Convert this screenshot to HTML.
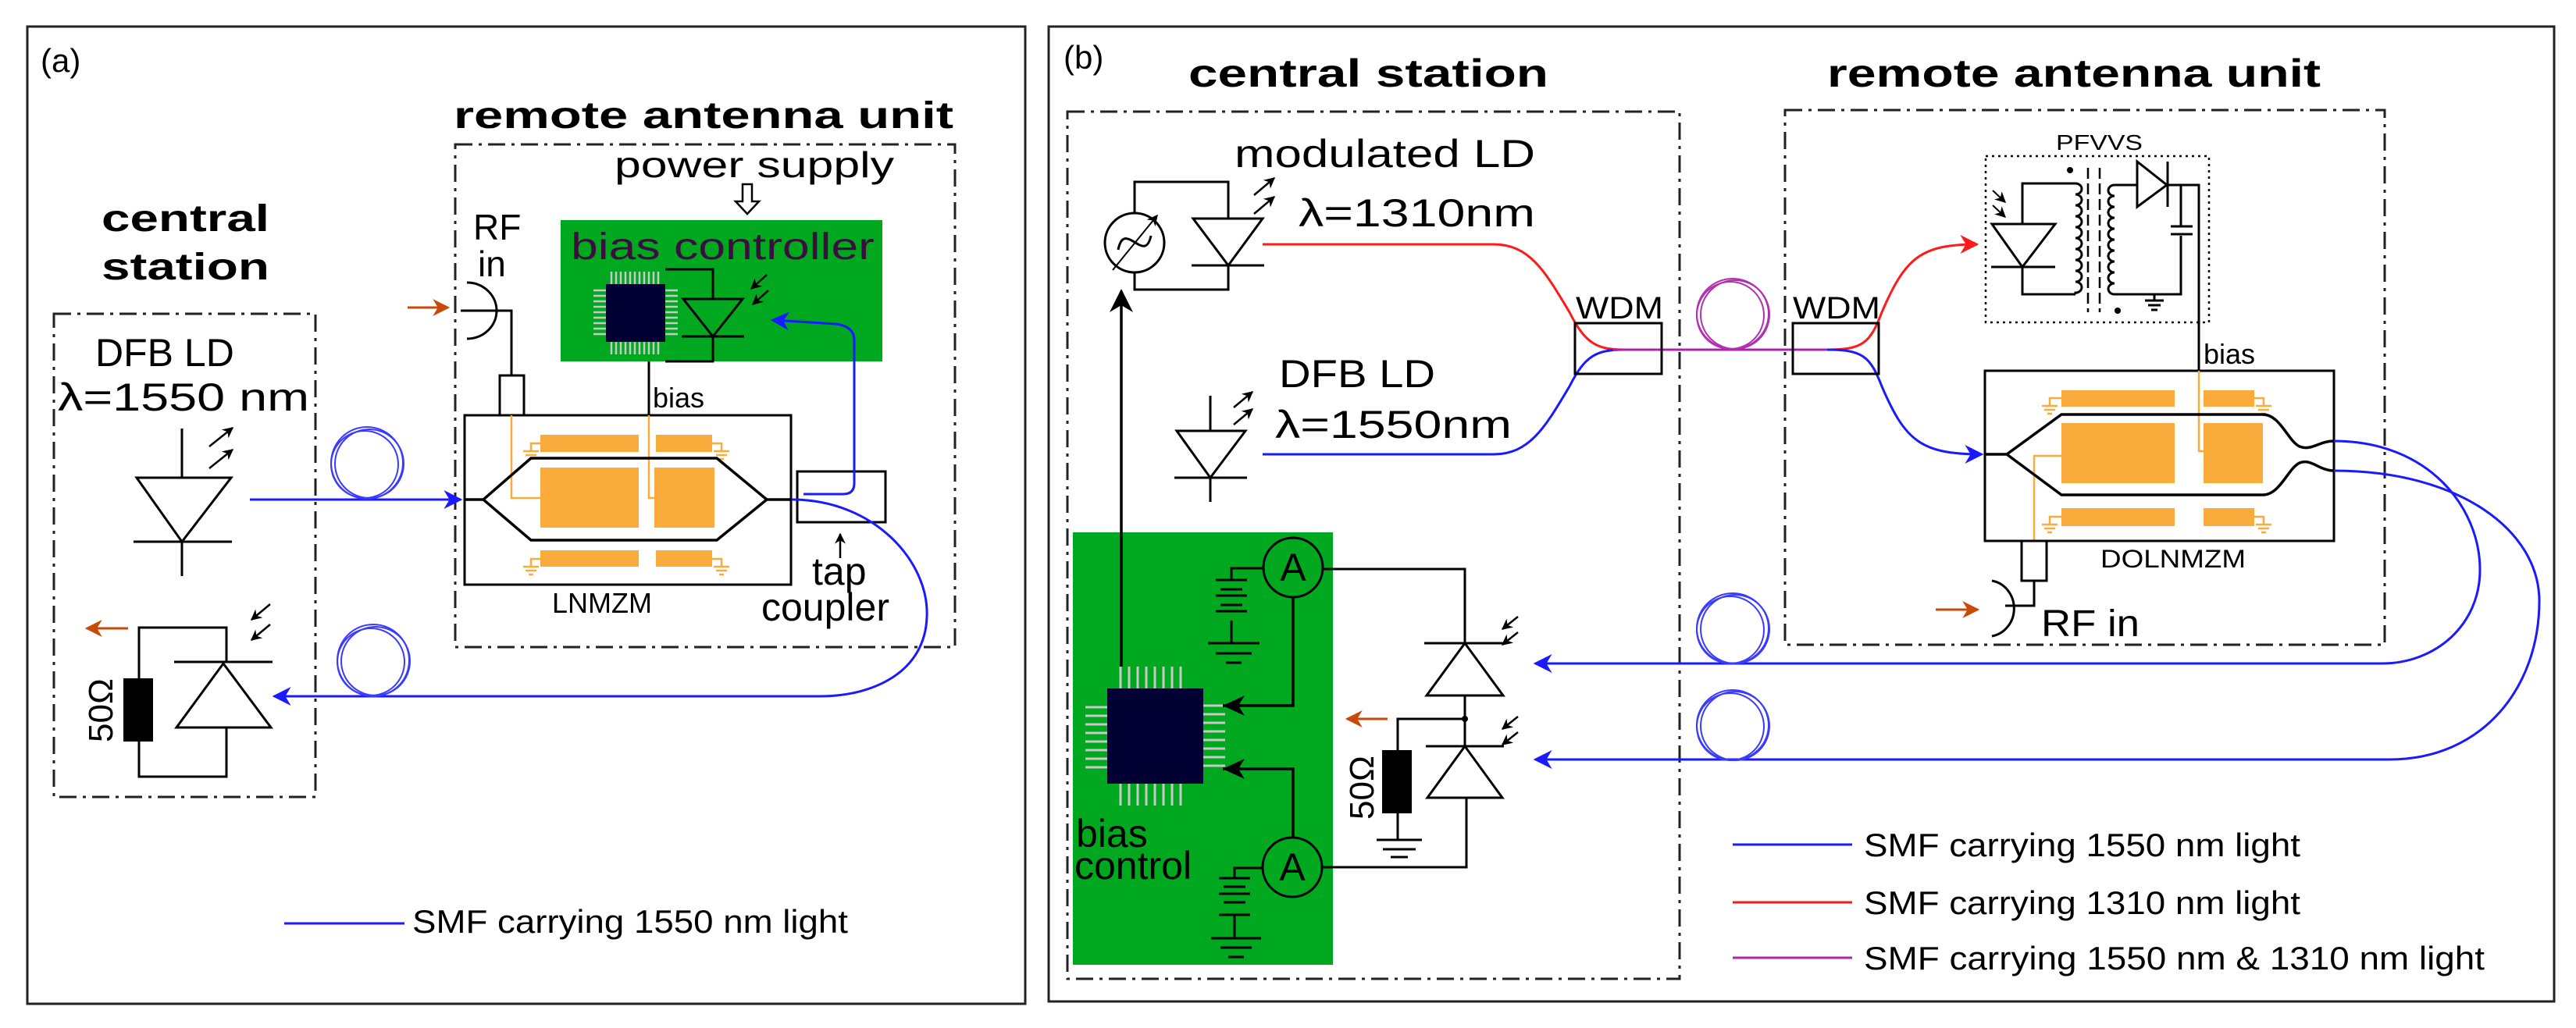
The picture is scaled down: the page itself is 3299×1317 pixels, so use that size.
<!DOCTYPE html>
<html><head><meta charset="utf-8"><style>
html,body{margin:0;padding:0;background:#fff;}
svg{display:block;}
text{font-family:"Liberation Sans",sans-serif;}
</style></head><body>
<svg width="3299" height="1317" viewBox="0 0 3299 1317" xmlns="http://www.w3.org/2000/svg">
<defs>
<marker id="abl" viewBox="0 0 10 10" markerWidth="24" markerHeight="24" refX="9" refY="5" orient="auto" markerUnits="userSpaceOnUse"><path d="M0,0 L10,5 L0,10 L3,5z" fill="#1a1aff"/></marker>
<marker id="ar" viewBox="0 0 10 10" markerWidth="24" markerHeight="24" refX="9" refY="5" orient="auto" markerUnits="userSpaceOnUse"><path d="M0,0 L10,5 L0,10 L3,5z" fill="#ff1a1a"/></marker>
<marker id="ak" viewBox="0 0 10 10" markerWidth="30" markerHeight="30" refX="9" refY="5" orient="auto" markerUnits="userSpaceOnUse"><path d="M0,0 L10,5 L0,10 L3,5z" fill="#000"/></marker>
<marker id="ao" viewBox="0 0 10 10" markerWidth="22" markerHeight="22" refX="9" refY="5" orient="auto" markerUnits="userSpaceOnUse"><path d="M0,0 L10,5 L0,10 L3,5z" fill="#c84a0a"/></marker>
<marker id="as" viewBox="0 0 10 10" markerWidth="14" markerHeight="14" refX="9" refY="5" orient="auto" markerUnits="userSpaceOnUse"><path d="M0,0 L10,5 L0,10 L3,5z" fill="#000"/></marker>
</defs>

<!-- ============ PANEL A ============ -->
<rect x="35" y="34" width="1278" height="1252" fill="none" stroke="#222" stroke-width="3"/>
<text x="52" y="92" font-size="42">(a)</text>
<text x="581" y="164" font-size="48" font-weight="bold" textLength="640" lengthAdjust="spacingAndGlyphs">remote antenna unit</text>
<rect x="583" y="185" width="640" height="644" fill="none" stroke="#222" stroke-width="3" stroke-dasharray="22 8 4 8"/>
<text x="787" y="227" font-size="46" textLength="358" lengthAdjust="spacingAndGlyphs">power supply</text>
<path d="M951,236 L963,236 L963,258 L972,258 L957,274 L942,258 L951,258 Z" fill="#fff" stroke="#000" stroke-width="2.5"/>
<rect x="718" y="282" width="412" height="181" fill="#00a81f"/>
<text x="731" y="332" font-size="48" fill="#3a0f3f" textLength="389" lengthAdjust="spacingAndGlyphs">bias controller</text>
<g stroke="#c8c8c8" stroke-width="2.5">
<path d="M783,348v16M789,348v16M795,348v16M801,348v16M807,348v16M813,348v16M819,348v16M825,348v16M831,348v16M837,348v16M843,348v16"/>
<path d="M783,438v16M789,438v16M795,438v16M801,438v16M807,438v16M813,438v16M819,438v16M825,438v16M831,438v16M837,438v16M843,438v16"/>
<path d="M760,372h16M760,379h16M760,386h16M760,393h16M760,400h16M760,407h16M760,414h16M760,421h16M760,428h16"/>
<path d="M852,372h16M852,379h16M852,386h16M852,393h16M852,400h16M852,407h16M852,414h16M852,421h16M852,428h16"/>
</g>
<rect x="776" y="364" width="76" height="74" fill="#000033"/>
<g fill="none" stroke="#000" stroke-width="3">
<path d="M852,345 H913 V383"/><path d="M875,383 H951 L913,431 Z"/><path d="M873,431 H953"/><path d="M913,431 V463 H852"/>
<path d="M831,463 V532"/>
</g>
<g stroke="#000" stroke-width="2.5">
<line x1="982" y1="352" x2="962" y2="370" marker-end="url(#as)"/>
<line x1="984" y1="372" x2="964" y2="390" marker-end="url(#as)"/>
</g>
<text x="606" y="307" font-size="46">RF</text>
<text x="612" y="354" font-size="46">in</text>
<path d="M598,362 A38,36 0 0 1 598,434" fill="none" stroke="#000" stroke-width="3"/>
<path d="M590,398 H655 V481" fill="none" stroke="#000" stroke-width="3"/>
<line x1="522" y1="394" x2="574" y2="394" stroke="#c84a0a" stroke-width="3" marker-end="url(#ao)"/>
<rect x="640" y="481" width="31" height="51" fill="#fff" stroke="#000" stroke-width="3"/>
<text x="836" y="522" font-size="36">bias</text>
<rect x="595" y="532" width="418" height="217" fill="none" stroke="#000" stroke-width="3"/>
<g fill="#f9ac3c">
<rect x="692" y="557" width="126" height="22"/><rect x="840" y="557" width="72" height="22"/>
<rect x="692" y="599" width="126" height="77"/><rect x="838" y="599" width="77" height="77"/>
<rect x="692" y="705" width="126" height="21"/><rect x="840" y="705" width="72" height="21"/>
</g>
<g stroke="#f9ac3c" stroke-width="2.5" fill="none">
<path d="M655,532 V638 H692"/><path d="M831,532 V638 H838"/>
<path d="M692,568 H680 V578 M670,578 H690 M673,583 H687 M677,588 H683"/>
<path d="M912,568 H924 V578 M914,578 H934 M917,583 H931 M921,588 H927"/>
<path d="M692,716 H680 V726 M670,726 H690 M673,731 H687 M677,736 H683"/>
<path d="M912,716 H924 V726 M914,726 H934 M917,731 H931 M921,736 H927"/>
</g>
<path d="M595,640 H619 L680,587 H918 L982,640 L918,692 H680 L619,640 M982,640 H1014" fill="none" stroke="#000" stroke-width="3.5"/>
<text x="707" y="785" font-size="36">LNMZM</text>
<rect x="1021" y="604" width="113" height="65" fill="none" stroke="#000" stroke-width="3"/>
<line x1="1076" y1="715" x2="1076" y2="684" stroke="#000" stroke-width="2.5" marker-end="url(#as)"/>
<text x="1040" y="749" font-size="50">tap</text>
<text x="975" y="795" font-size="50">coupler</text>
<text x="130" y="296" font-size="48" font-weight="bold" textLength="215" lengthAdjust="spacingAndGlyphs">central</text>
<text x="130" y="358" font-size="48" font-weight="bold" textLength="215" lengthAdjust="spacingAndGlyphs">station</text>
<rect x="69" y="402" width="335" height="619" fill="none" stroke="#222" stroke-width="3" stroke-dasharray="22 8 4 8"/>
<text x="122" y="469" font-size="50">DFB LD</text>
<text x="74" y="526" font-size="50" textLength="322" lengthAdjust="spacingAndGlyphs">λ=1550 nm</text>
<g fill="none" stroke="#000" stroke-width="3">
<path d="M233,549 V612 M175,612 H296 L233,694 Z M171,694 H297 M233,694 V738"/>
</g>
<g stroke="#000" stroke-width="2.5">
<line x1="268" y1="572" x2="298" y2="548" marker-end="url(#as)"/>
<line x1="268" y1="600" x2="298" y2="576" marker-end="url(#as)"/>
</g>
<g fill="none" stroke="#000" stroke-width="3">
<path d="M178,869 V804 H290 V848 M223,848 H349 M226,932 H347 L286,850 Z M290,932 V995 H178 V950"/>
</g>
<rect x="158" y="869" width="38" height="81" fill="#000"/>
<g stroke="#000" stroke-width="2.5">
<line x1="346" y1="774" x2="322" y2="794" marker-end="url(#as)"/>
<line x1="346" y1="800" x2="322" y2="820" marker-end="url(#as)"/>
</g>
<line x1="164" y1="805" x2="111" y2="805" stroke="#c84a0a" stroke-width="3" marker-end="url(#ao)"/>
<text transform="translate(144,951) rotate(-90)" font-size="44">50Ω</text>
<line x1="320" y1="640" x2="590" y2="640" stroke="#1a1aff" stroke-width="3" marker-end="url(#abl)"/>
<g fill="none" stroke="#3a3aff" stroke-width="2"><circle cx="470" cy="593" r="46"/><circle cx="473" cy="594" r="44"/><circle cx="467" cy="595" r="43"/></g>
<path d="M1029,633 H1080 Q1094,633 1094,619 V436 Q1094,418 1070,415 L989,410" fill="none" stroke="#1a1aff" stroke-width="3" marker-end="url(#abl)"/>
<path d="M1014,640 C1120,640 1190,720 1187,790 C1185,860 1120,892 1050,892 H351" fill="none" stroke="#1a1aff" stroke-width="3" marker-end="url(#abl)"/>
<g fill="none" stroke="#3a3aff" stroke-width="2"><circle cx="478" cy="846" r="46"/><circle cx="481" cy="847" r="44"/><circle cx="475" cy="848" r="43"/></g>
<line x1="364" y1="1183" x2="518" y2="1183" stroke="#1a1aff" stroke-width="3"/>
<text x="528" y="1195" font-size="42" textLength="558" lengthAdjust="spacingAndGlyphs">SMF carrying 1550 nm light</text>

<!-- ============ PANEL B ============ -->
<rect x="1343" y="34" width="1928" height="1249" fill="none" stroke="#222" stroke-width="3"/>
<text x="1362" y="88" font-size="42">(b)</text>
<text x="1522" y="111" font-size="50" font-weight="bold" textLength="461" lengthAdjust="spacingAndGlyphs">central  station</text>
<text x="2340" y="111" font-size="50" font-weight="bold" textLength="632" lengthAdjust="spacingAndGlyphs">remote antenna unit</text>
<rect x="1367" y="143" width="784" height="1111" fill="none" stroke="#222" stroke-width="3" stroke-dasharray="22 8 4 8"/>
<rect x="2286" y="141" width="768" height="685" fill="none" stroke="#222" stroke-width="3" stroke-dasharray="22 8 4 8"/>
<text x="1581" y="214" font-size="50" textLength="385" lengthAdjust="spacingAndGlyphs">modulated LD</text>
<text x="1663" y="290" font-size="50" textLength="303" lengthAdjust="spacingAndGlyphs">λ=1310nm</text>
<g fill="none" stroke="#000" stroke-width="3">
<path d="M1453,273 V233 H1573 V280 M1528,280 H1617 L1573,340 Z M1526,340 H1619 M1573,340 V371 H1453 V349"/>
<circle cx="1453" cy="311" r="38" fill="#fff"/>
<path d="M1432,320 C1440,280 1466,340 1474,302"/>
</g>
<line x1="1425" y1="346" x2="1482" y2="276" stroke="#000" stroke-width="2" marker-end="url(#as)"/>
<g stroke="#000" stroke-width="2.5">
<line x1="1606" y1="250" x2="1632" y2="228" marker-end="url(#as)"/>
<line x1="1606" y1="274" x2="1632" y2="252" marker-end="url(#as)"/>
</g>
<text x="1638" y="496" font-size="50" textLength="200" lengthAdjust="spacingAndGlyphs">DFB LD</text>
<text x="1633" y="561" font-size="50" textLength="303" lengthAdjust="spacingAndGlyphs">λ=1550nm</text>
<g fill="none" stroke="#000" stroke-width="3">
<path d="M1550,507 V552 M1507,552 H1595 L1550,612 Z M1504,612 H1597 M1550,612 V643"/>
</g>
<g stroke="#000" stroke-width="2.5">
<line x1="1580" y1="522" x2="1604" y2="502" marker-end="url(#as)"/>
<line x1="1580" y1="544" x2="1604" y2="524" marker-end="url(#as)"/>
</g>
<path d="M1617,313 H1913 C1960,313 1980,350 2010,400 C2030,440 2045,448 2080,448" fill="none" stroke="#ff1a1a" stroke-width="3"/>
<path d="M1617,582 H1913 C1960,582 1980,545 2010,495 C2030,455 2045,448 2080,448" fill="none" stroke="#1a1aff" stroke-width="3"/>
<line x1="2065" y1="448" x2="2350" y2="448" stroke="#b020b0" stroke-width="3"/>
<g fill="none" stroke="#b030b0" stroke-width="2"><ellipse cx="2219" cy="402" rx="46" ry="45"/><ellipse cx="2222" cy="403" rx="44" ry="44"/><ellipse cx="2216" cy="404" rx="43" ry="43"/></g>
<path d="M2340,448 C2385,448 2395,440 2410,400 C2440,330 2460,313 2532,313" fill="none" stroke="#ff1a1a" stroke-width="3" marker-end="url(#ar)"/>
<path d="M2340,448 C2385,448 2395,456 2410,495 C2440,565 2460,582 2538,582" fill="none" stroke="#1a1aff" stroke-width="3" marker-end="url(#abl)"/>
<rect x="2017" y="414" width="111" height="65" fill="none" stroke="#000" stroke-width="3"/>
<rect x="2296" y="414" width="110" height="65" fill="none" stroke="#000" stroke-width="3"/>
<text x="2018" y="408" font-size="40" textLength="112" lengthAdjust="spacingAndGlyphs">WDM</text>
<text x="2296" y="408" font-size="40" textLength="112" lengthAdjust="spacingAndGlyphs">WDM</text>
<text x="2633" y="192" font-size="28" textLength="111" lengthAdjust="spacingAndGlyphs">PFVVS</text>
<rect x="2543" y="200" width="286" height="213" fill="none" stroke="#000" stroke-width="2.5" stroke-dasharray="3 5"/>
<g fill="none" stroke="#000" stroke-width="3">
<path d="M2590,287 V235 H2658 M2551,287 H2632 L2590,342 Z M2550,342 H2632 M2590,342 V377 H2658"/>
<path d="M2658,235 a8,7 0 0 1 0,14 a8,7 0 0 1 0,14 a8,7 0 0 1 0,14 a8,7 0 0 1 0,14 a8,7 0 0 1 0,14 a8,7 0 0 1 0,14 a8,7 0 0 1 0,14 a8,7 0 0 1 0,14 a8,7 0 0 1 0,14 a8,7 0 0 1 0,14 V377"/>
<path d="M2708,237 a8,7 0 0 0 0,14 a8,7 0 0 0 0,14 a8,7 0 0 0 0,14 a8,7 0 0 0 0,14 a8,7 0 0 0 0,14 a8,7 0 0 0 0,14 a8,7 0 0 0 0,14 a8,7 0 0 0 0,14 a8,7 0 0 0 0,14 a8,7 0 0 0 0,14 V377 H2793 V302 M2780,290 H2808 M2780,300 H2808 M2793,290 V237"/>
<path d="M2708,237 H2737 M2737,207 V265 L2775,237 Z M2776,207 V265 M2776,237 H2816 V475"/>
<path d="M2747,385 H2771 M2751,391 H2767 M2755,397 H2763 M2759,377 V385"/>
</g>
<path d="M2674,215 V400 M2689,215 V400" stroke="#000" stroke-width="2.5" stroke-dasharray="14 6"/>
<circle cx="2651" cy="218" r="4" fill="#000"/><circle cx="2712" cy="398" r="4" fill="#000"/>
<g stroke="#000" stroke-width="2">
<line x1="2552" y1="244" x2="2568" y2="259" marker-end="url(#as)"/>
<line x1="2552" y1="263" x2="2568" y2="278" marker-end="url(#as)"/>
</g>
<text x="2822" y="466" font-size="36">bias</text>
<rect x="2542" y="475" width="447" height="218" fill="none" stroke="#000" stroke-width="3"/>
<g fill="#f9ac3c">
<rect x="2640" y="500" width="145" height="21"/><rect x="2822" y="500" width="65" height="21"/>
<rect x="2640" y="542" width="145" height="77"/><rect x="2822" y="542" width="76" height="77"/>
<rect x="2640" y="651" width="145" height="23"/><rect x="2822" y="651" width="65" height="23"/>
</g>
<g stroke="#f9ac3c" stroke-width="2.5" fill="none">
<path d="M2816,475 V578 H2822"/><path d="M2605,693 V584 H2640"/>
<path d="M2640,510 H2625 V520 M2615,520 H2635 M2618,525 H2632 M2622,530 H2628"/>
<path d="M2887,510 H2899 V520 M2889,520 H2909 M2892,525 H2906 M2896,530 H2902"/>
<path d="M2640,662 H2625 V672 M2615,672 H2635 M2618,677 H2632 M2622,682 H2628"/>
<path d="M2887,662 H2899 V672 M2889,672 H2909 M2892,677 H2906 M2896,682 H2902"/>
</g>
<path d="M2542,582 H2570 L2640,531 H2898 C2920,531 2930,565 2945,572 C2960,578 2970,565 2989,565 M2570,582 L2640,634 H2898 C2920,634 2930,600 2945,593 C2960,587 2970,603 2989,603" fill="none" stroke="#000" stroke-width="3.5"/>
<text x="2690" y="727" font-size="32" textLength="186" lengthAdjust="spacingAndGlyphs">DOLNMZM</text>
<rect x="2589" y="693" width="32" height="51" fill="#fff" stroke="#000" stroke-width="3"/>
<path d="M2605,744 V776 H2568" fill="none" stroke="#000" stroke-width="3"/>
<path d="M2551,744 A34,36 0 0 1 2551,815" fill="none" stroke="#000" stroke-width="3"/>
<line x1="2479" y1="781" x2="2533" y2="781" stroke="#c84a0a" stroke-width="3" marker-end="url(#ao)"/>
<text x="2614" y="815" font-size="48" textLength="126" lengthAdjust="spacingAndGlyphs">RF in</text>
<path d="M2989,565 C3110,565 3176,650 3176,730 C3176,800 3120,850 3050,850 H1966" fill="none" stroke="#1a1aff" stroke-width="3" marker-end="url(#abl)"/>
<path d="M2989,603 C3150,603 3252,680 3252,770 C3252,880 3180,973 3060,973 H1966" fill="none" stroke="#1a1aff" stroke-width="3" marker-end="url(#abl)"/>
<g fill="none" stroke="#3a3aff" stroke-width="2"><ellipse cx="2219" cy="805" rx="46" ry="45"/><ellipse cx="2222" cy="806" rx="44" ry="44"/><ellipse cx="2216" cy="807" rx="43" ry="43"/></g>
<g fill="none" stroke="#3a3aff" stroke-width="2"><ellipse cx="2219" cy="929" rx="46" ry="45"/><ellipse cx="2222" cy="930" rx="44" ry="44"/><ellipse cx="2216" cy="931" rx="43" ry="43"/></g>
<rect x="1374" y="682" width="333" height="554" fill="#00a81f"/>
<g stroke="#c8c8c8" stroke-width="3">
<path d="M1435,854v28M1446,854v28M1457,854v28M1468,854v28M1479,854v28M1490,854v28M1501,854v28M1512,854v28"/>
<path d="M1435,1004v28M1446,1004v28M1457,1004v28M1468,1004v28M1479,1004v28M1490,1004v28M1501,1004v28M1512,1004v28"/>
<path d="M1390,906h28M1390,917h28M1390,928h28M1390,939h28M1390,950h28M1390,961h28M1390,972h28M1390,983h28"/>
<path d="M1541,904h28M1541,915h28M1541,926h28M1541,937h28M1541,948h28M1541,959h28M1541,970h28M1541,981h28"/>
</g>
<rect x="1418" y="882" width="123" height="122" fill="#000033"/>
<line x1="1436" y1="854" x2="1436" y2="373" stroke="#000" stroke-width="3.5" marker-end="url(#ak)"/>
<g fill="none" stroke="#000" stroke-width="3.5">
<path d="M1656,765 V904 H1566"/><path d="M1656,1073 V985 H1566"/>
</g>
<path d="M1566,904 l28,-13 l-8,13 l8,13z M1566,985 l28,-13 l-8,13 l8,13z" fill="#000"/>
<g fill="none" stroke="#000" stroke-width="3">
<circle cx="1656" cy="727" r="38"/><circle cx="1655" cy="1111" r="38"/>
<path d="M1618,728 H1577 V743 M1557,743 H1597 M1563,755 H1591 M1557,763 H1597 M1563,775 H1591 M1557,783 H1597 M1577,795 V824 M1547,824 H1613 M1557,837 H1603 M1570,849 H1590"/>
<path d="M1617,1112 H1581 V1125 M1561,1125 H1601 M1567,1136 H1595 M1561,1145 H1601 M1567,1156 H1595 M1561,1172 H1601 M1581,1172 V1202 M1551,1202 H1615 M1563,1214 H1603 M1573,1226 H1593"/>
<path d="M1694,729 H1876 V824 M1824,824 H1926 M1876,824 L1827,891 H1925 Z M1876,891 V956 M1826,956 H1926 M1876,956 L1828,1022 H1924 Z M1878,1022 V1111 H1693"/>
<path d="M1790,962 V921 H1876 M1790,1042 V1076 M1763,1076 H1821 M1771,1088 H1813 M1781,1098 H1803"/>
</g>
<text x="1656" y="744" font-size="50" text-anchor="middle">A</text>
<text x="1655" y="1128" font-size="50" text-anchor="middle">A</text>
<rect x="1770" y="961" width="38" height="81" fill="#000"/>
<circle cx="1876" cy="921" r="4" fill="#000"/>
<line x1="1777" y1="921" x2="1725" y2="921" stroke="#c84a0a" stroke-width="3" marker-end="url(#ao)"/>
<text transform="translate(1759,1050) rotate(-90)" font-size="44">50Ω</text>
<g stroke="#000" stroke-width="2.5">
<line x1="1944" y1="790" x2="1924" y2="806" marker-end="url(#as)"/>
<line x1="1944" y1="810" x2="1924" y2="826" marker-end="url(#as)"/>
<line x1="1944" y1="918" x2="1924" y2="934" marker-end="url(#as)"/>
<line x1="1944" y1="938" x2="1924" y2="954" marker-end="url(#as)"/>
</g>
<text x="1378" y="1085" font-size="50">bias</text>
<text x="1376" y="1126" font-size="50">control</text>
<line x1="2219" y1="1082" x2="2372" y2="1082" stroke="#1a1aff" stroke-width="3"/>
<line x1="2219" y1="1156" x2="2372" y2="1156" stroke="#ff1a1a" stroke-width="3"/>
<line x1="2219" y1="1227" x2="2372" y2="1227" stroke="#b020b0" stroke-width="3"/>
<text x="2387" y="1097" font-size="42" textLength="559" lengthAdjust="spacingAndGlyphs">SMF carrying 1550 nm light</text>
<text x="2387" y="1171" font-size="42" textLength="559" lengthAdjust="spacingAndGlyphs">SMF carrying 1310 nm light</text>
<text x="2387" y="1242" font-size="42" textLength="795" lengthAdjust="spacingAndGlyphs">SMF carrying 1550 nm &amp; 1310 nm light</text>
</svg>
</body></html>
